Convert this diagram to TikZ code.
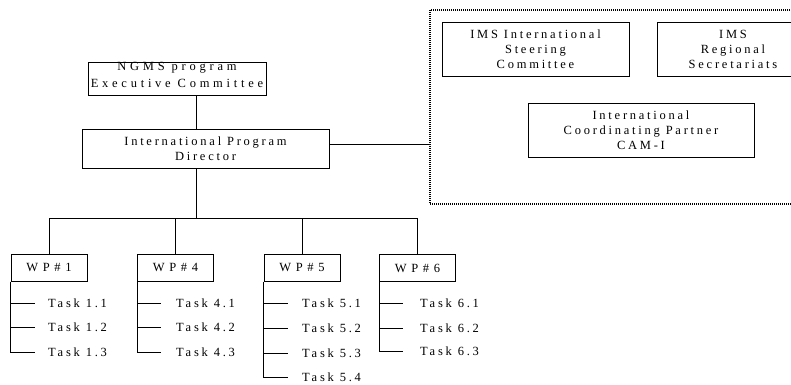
\documentclass[tikz,border=0pt]{standalone}
\usepackage{fontspec}
\setmainfont{Liberation Serif}[LetterSpace=22]

\begin{document}
\begin{tikzpicture}[x=1pt,y=-1pt,
    every node/.style={font=\fontsize{12.5}{15}\selectfont},
    unit/.style={draw,line width=1pt,inner sep=0pt,align=center},
    wpbox/.style={unit,minimum width=76pt,minimum height=27pt,font=\fontsize{12.5}{15}\selectfont\addfontfeature{LetterSpace=37}},
    task/.style={anchor=west,inner sep=0pt},
    link/.style={line width=0.9pt}]
    \useasboundingbox (0,0) rectangle (791,384);
    \clip (0,0) rectangle (791,384);
    \node[unit,minimum width=178pt,minimum height=33pt,text depth=7pt,font=\fontsize{12.5}{17}\selectfont\addfontfeature{LetterSpace=30}] (ngms) at (177,78.5) {NGMS program\\Executive Committee};
    \node[unit,minimum width=247pt,minimum height=39pt] (ipd) at (205.5,148.5) {International Program\\Director};
    \node[draw,line width=1.2pt,dash pattern=on 1pt off 1pt,minimum width=380pt,minimum height=194pt] (ims) at (620,107) {};
    \node[unit,minimum width=187pt,minimum height=54pt] (isc) at (535.5,49) {IMS International\\Steering\\Committee};
    \node[unit,minimum width=152pt,minimum height=54pt] (irs) at (733,49) {IMS\\Regional\\Secretariats};
    \node[unit,minimum width=226pt,minimum height=54pt] (icp) at (641,130) {International\\Coordinating Partner\\CAM-I};
    \coordinate (bus) at (196.5,218);
    \node[wpbox] (wp1) at (49,267.5) {WP\#1};
    \node[wpbox] (wp4) at (175.5,267.5) {WP\#4};
    \node[wpbox] (wp5) at (302,267.5) {WP\#5};
    \node[wpbox] (wp6) at (417.5,268) {WP\#6};
    \node[task] (t11) at (48,303) {Task 1.1};
    \node[task] (t12) at (48,327) {Task 1.2};
    \node[task] (t13) at (48,352) {Task 1.3};
    \node[task] (t41) at (176,303) {Task 4.1};
    \node[task] (t42) at (176,327) {Task 4.2};
    \node[task] (t43) at (176,352) {Task 4.3};
    \node[task] (t51) at (302,303) {Task 5.1};
    \node[task] (t52) at (302,328) {Task 5.2};
    \node[task] (t53) at (302,353) {Task 5.3};
    \node[task] (t54) at (302,377) {Task 5.4};
    \node[task] (t61) at (420,303) {Task 6.1};
    \node[task] (t62) at (420,328) {Task 6.2};
    \node[task] (t63) at (420,351) {Task 6.3};
    \draw[link] (bus |- ngms.south) -- (bus |- ipd.north);
    \draw[link] ([yshift=4pt]ipd.east) -- ([yshift=4pt]ipd.east -| ims.west);
    \draw[link] (bus |- ipd.south) -- (bus);
    \draw[link] (wp1.north |- bus) -- (wp6.north |- bus);
    \draw[link] (wp1.north) -- (wp1.north |- bus);
    \draw[link] (wp4.north) -- (wp4.north |- bus);
    \draw[link] (wp5.north) -- (wp5.north |- bus);
    \draw[link] (wp6.north) -- (wp6.north |- bus);
    \draw[link] (wp1.south west) -- (wp1.west |- t13.west) -- ++(24,0);
    \draw[link] (wp1.west |- t11.west) -- ++(24,0);
    \draw[link] (wp1.west |- t12.west) -- ++(24,0);
    \draw[link] (wp4.south west) -- (wp4.west |- t43.west) -- ++(24,0);
    \draw[link] (wp4.west |- t41.west) -- ++(24,0);
    \draw[link] (wp4.west |- t42.west) -- ++(24,0);
    \draw[link] (wp5.south west) -- (wp5.west |- t54.west) -- ++(24,0);
    \draw[link] (wp5.west |- t51.west) -- ++(24,0);
    \draw[link] (wp5.west |- t52.west) -- ++(24,0);
    \draw[link] (wp5.west |- t53.west) -- ++(24,0);
    \draw[link] (wp6.south west) -- (wp6.west |- t63.west) -- ++(24,0);
    \draw[link] (wp6.west |- t61.west) -- ++(24,0);
    \draw[link] (wp6.west |- t62.west) -- ++(24,0);
\end{tikzpicture}
\end{document}
